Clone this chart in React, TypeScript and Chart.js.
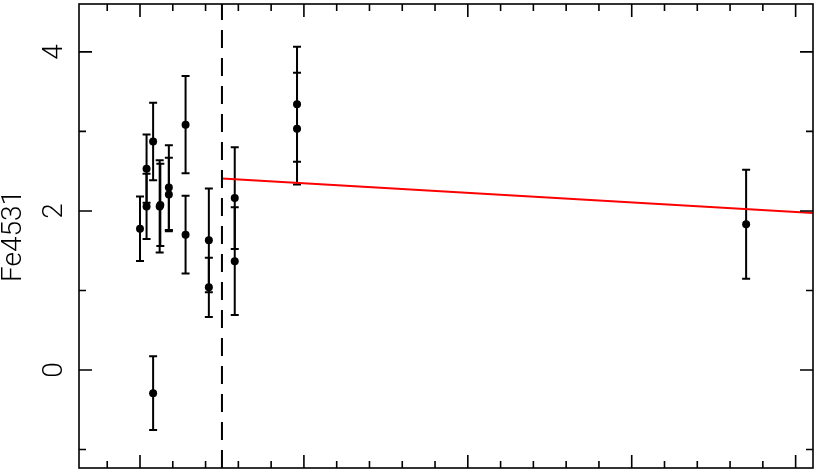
import React, { useEffect, useRef } from 'react';
import { Chart, registerables } from 'chart.js';
Chart.register(...registerables);

// Measured points (x in arbitrary units: major ticks every 5)
const pointX = [0.0, 0.2, 0.2, 0.4, 0.4, 0.6, 0.62, 0.88, 0.88, 1.39, 1.39, 2.1, 2.1, 2.89, 2.89, 4.79, 4.79, 18.49];
const pointY = [1.776, 2.531, 2.057, 2.873, -0.291, 2.057, 2.076, 2.294, 2.207, 3.085, 1.701, 1.63, 1.04, 2.162, 1.368, 3.342, 3.035, 1.832];
const pointErr = [0.405, 0.429, 0.411, 0.486, 0.464, 0.581, 0.517, 0.532, 0.461, 0.611, 0.489, 0.652, 0.372, 0.64, 0.677, 0.723, 0.702, 0.686];

// Red fit line
const fitX = [2.5, 20.53];
const fitY = [2.407, 1.973];

// Vertical dashed divider
const dividerX = 2.5;

// Axis ranges and ticks
const xRange = [-1.861, 20.53];
const yRange = [-1.232, 4.602];
const xMajorTicks = [0, 5, 10, 15, 20];
const xMinorTicks = [-1, 1, 2, 3, 4, 6, 7, 8, 9, 11, 12, 13, 14, 16, 17, 18, 19];
const yMajorTicks = [0, 2, 4];
const yMinorTicks = [-1, 1, 3];
const yTickLabels = ['0', '2', '4'];
const yTitle = 'Fe4531';

const FONT = '300 28px Roboto, "Liberation Sans", Arial, sans-serif';

const errorBarPlugin = {
  id: 'errorBars',
  beforeDatasetsDraw(chart: any) {
    const { ctx, scales } = chart;
    const xs = scales.x;
    const ys = scales.y;
    ctx.save();
    ctx.beginPath();
    ctx.rect(chart.chartArea.left, chart.chartArea.top, chart.chartArea.right - chart.chartArea.left, chart.chartArea.bottom - chart.chartArea.top);
    ctx.clip();
    ctx.strokeStyle = '#000';
    ctx.lineWidth = 2;
    const cap = 4;
    pointX.forEach((xv, i) => {
      const px = xs.getPixelForValue(xv);
      const top = ys.getPixelForValue(pointY[i] + pointErr[i]);
      const bot = ys.getPixelForValue(pointY[i] - pointErr[i]);
      ctx.beginPath();
      ctx.moveTo(px, top);
      ctx.lineTo(px, bot);
      ctx.moveTo(px - cap, top);
      ctx.lineTo(px + cap, top);
      ctx.moveTo(px - cap, bot);
      ctx.lineTo(px + cap, bot);
      ctx.stroke();
    });
    ctx.restore();
  },
};

const framePlugin = {
  id: 'frame',
  afterDraw(chart: any) {
    const { ctx, scales, chartArea } = chart;
    const { left, right, top, bottom } = chartArea;
    const xs = scales.x;
    const ys = scales.y;
    ctx.save();
    ctx.strokeStyle = '#000';
    ctx.lineWidth = 1.6;
    ctx.strokeRect(left, top, right - left, bottom - top);
    const major = 13;
    const minor = 7;
    ctx.beginPath();
    const xt = (v: number, len: number) => {
      const p = xs.getPixelForValue(v);
      ctx.moveTo(p, bottom);
      ctx.lineTo(p, bottom - len);
      ctx.moveTo(p, top);
      ctx.lineTo(p, top + len);
    };
    const yt = (v: number, len: number) => {
      const p = ys.getPixelForValue(v);
      ctx.moveTo(left, p);
      ctx.lineTo(left + len, p);
      ctx.moveTo(right, p);
      ctx.lineTo(right - len, p);
    };
    xMajorTicks.forEach((v) => xt(v, major));
    xMinorTicks.forEach((v) => xt(v, minor));
    yMajorTicks.forEach((v) => yt(v, major));
    yMinorTicks.forEach((v) => yt(v, minor));
    ctx.stroke();

    ctx.fillStyle = '#000';
    ctx.font = FONT;
    ctx.textAlign = 'center';
    ctx.textBaseline = 'alphabetic';
    yMajorTicks.forEach((v, i) => {
      const p = ys.getPixelForValue(v);
      ctx.save();
      ctx.translate(61.5, p);
      ctx.rotate(-Math.PI / 2);
      ctx.fillText(yTickLabels[i], 0, 0);
      ctx.restore();
    });
    ctx.save();
    ctx.translate(21, (top + bottom) / 2);
    ctx.rotate(-Math.PI / 2);
    ctx.fillText(yTitle, 0, 0);
    ctx.restore();
    ctx.restore();
  },
};

export default function App() {
  const ref = useRef<HTMLCanvasElement>(null);
  useEffect(() => {
    if (!ref.current) return;
    const chart = new Chart(ref.current, {
      type: 'scatter',
      data: {
        datasets: [
          {
            type: 'line',
            data: [
              { x: dividerX, y: yRange[0] },
              { x: dividerX, y: yRange[1] },
            ],
            borderColor: '#000',
            borderWidth: 2,
            borderDash: [18, 10],
            pointRadius: 0,
            fill: false,
          } as any,
          {
            type: 'line',
            data: fitX.map((x, i) => ({ x, y: fitY[i] })),
            borderColor: '#ff0000',
            borderWidth: 2,
            pointRadius: 0,
            fill: false,
          } as any,
          {
            type: 'scatter',
            data: pointX.map((x, i) => ({ x, y: pointY[i] })),
            backgroundColor: '#000',
            borderColor: '#000',
            pointRadius: 4,
            borderWidth: 0,
          },
        ],
      },
      options: {
        animation: false,
        responsive: false,
        maintainAspectRatio: false,
        layout: { padding: { left: 79, right: 1.5, top: 2, bottom: 2.5 } },
        plugins: { legend: { display: false }, tooltip: { enabled: false } },
        scales: {
          x: { type: 'linear', min: xRange[0], max: xRange[1], display: false },
          y: { type: 'linear', min: yRange[0], max: yRange[1], display: false },
        },
      },
      plugins: [errorBarPlugin, framePlugin],
    });
    return () => chart.destroy();
  }, []);
  return (
    <div style={{ position: 'fixed', left: 0, top: 0, width: 817, height: 472, background: '#fff' }}>
      <canvas ref={ref} width={817} height={472} style={{ width: 817, height: 472 }} />
    </div>
  );
}
